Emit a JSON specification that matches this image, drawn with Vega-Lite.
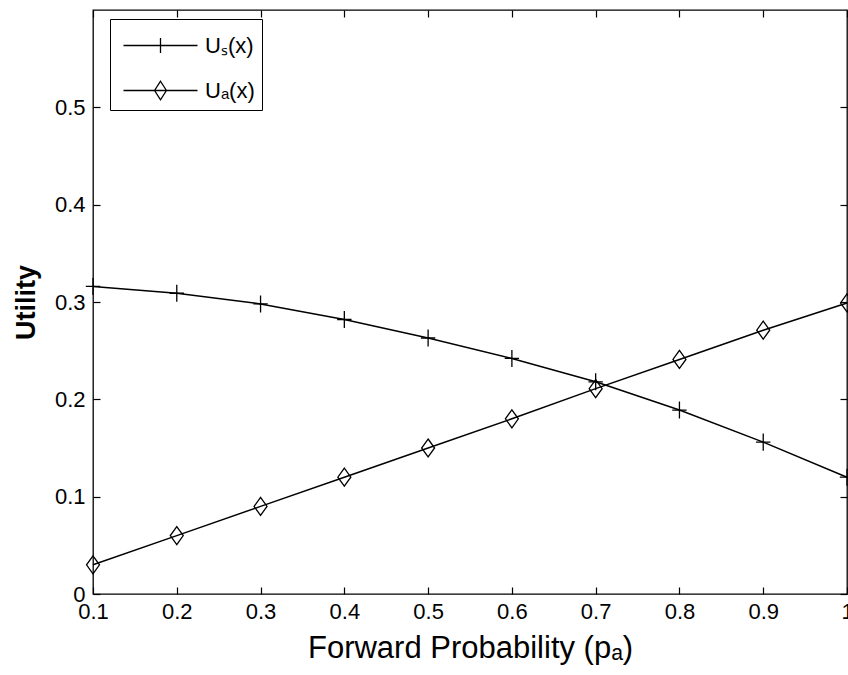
{
  "$schema": "https://vega.github.io/schema/vega-lite/v6.json",
  "width": 754,
  "height": 584,
  "autosize": {"type": "none"},
  "padding": {"left": 93, "top": 10, "right": 1, "bottom": 81},
  "background": "white",
  "config": {
    "view": {"stroke": "#000", "strokeWidth": 1.3},
    "font": "Liberation Sans",
    "axis": {
      "domain": false,
      "grid": false,
      "tickColor": "#000",
      "tickSize": -7,
      "tickWidth": 1.2,
      "labelFont": "Liberation Sans",
      "labelFontSize": 22,
      "labelColor": "#000",
      "labelFlush": false,
      "labelOverlap": false,
      "titleColor": "#000"
    }
  },
  "data": {
    "values": [
      {"p": 0.1, "series": "Uₛ(x)", "u": 0.316},
      {"p": 0.2, "series": "Uₛ(x)", "u": 0.309},
      {"p": 0.3, "series": "Uₛ(x)", "u": 0.298},
      {"p": 0.4, "series": "Uₛ(x)", "u": 0.282},
      {"p": 0.5, "series": "Uₛ(x)", "u": 0.263},
      {"p": 0.6, "series": "Uₛ(x)", "u": 0.242},
      {"p": 0.7, "series": "Uₛ(x)", "u": 0.218},
      {"p": 0.8, "series": "Uₛ(x)", "u": 0.189},
      {"p": 0.9, "series": "Uₛ(x)", "u": 0.156},
      {"p": 1.0, "series": "Uₛ(x)", "u": 0.120},
      {"p": 0.1, "series": "Uₐ(x)", "u": 0.030},
      {"p": 0.2, "series": "Uₐ(x)", "u": 0.060},
      {"p": 0.3, "series": "Uₐ(x)", "u": 0.090},
      {"p": 0.4, "series": "Uₐ(x)", "u": 0.120},
      {"p": 0.5, "series": "Uₐ(x)", "u": 0.150},
      {"p": 0.6, "series": "Uₐ(x)", "u": 0.180},
      {"p": 0.7, "series": "Uₐ(x)", "u": 0.211},
      {"p": 0.8, "series": "Uₐ(x)", "u": 0.241},
      {"p": 0.9, "series": "Uₐ(x)", "u": 0.271},
      {"p": 1.0, "series": "Uₐ(x)", "u": 0.299}
    ]
  },
  "layer": [
    {
      "mark": {"type": "line", "color": "#000", "strokeWidth": 1.5},
      "encoding": {
        "x": {
          "field": "p", "type": "quantitative",
          "scale": {"domain": [0.1, 1], "nice": false, "zero": false},
          "axis": {
            "orient": "bottom",
            "values": [0.1, 0.2, 0.3, 0.4, 0.5, 0.6, 0.7, 0.8, 0.9, 1],
            "format": "~g",
            "labelPadding": 14,
            "title": "Forward Probability (pₐ)",
            "titleFont": "Liberation Sans",
            "titleFontSize": 31,
            "titleFontWeight": "normal",
            "titleY": 63,
            "titleBaseline": "alphabetic"
          }
        },
        "y": {
          "field": "u", "type": "quantitative",
          "scale": {"domain": [0, 0.6], "nice": false, "zero": false},
          "axis": {
            "orient": "left",
            "values": [0, 0.1, 0.2, 0.3, 0.4, 0.5],
            "format": "~g",
            "labelPadding": 15,
            "title": "Utility",
            "titleFont": "Liberation Sans",
            "titleFontSize": 27,
            "titleFontWeight": "bold",
            "titleAngle": -90,
            "titleX": -59,
            "titleY": 292,
            "titleAlign": "center",
            "titleBaseline": "alphabetic"
          }
        },
        "detail": {"field": "series", "type": "nominal"}
      }
    },
    {
      "mark": {"type": "point", "filled": false, "color": "#000", "strokeWidth": 1.3, "size": 324, "opacity": 1},
      "encoding": {
        "x": {
          "field": "p", "type": "quantitative",
          "scale": {"domain": [0.1, 1], "nice": false, "zero": false},
          "axis": {"orient": "top", "values": [0.1, 0.2, 0.3, 0.4, 0.5, 0.6, 0.7, 0.8, 0.9, 1], "labels": false, "title": null}
        },
        "y": {
          "field": "u", "type": "quantitative",
          "scale": {"domain": [0, 0.6], "nice": false, "zero": false},
          "axis": {"orient": "right", "values": [0, 0.1, 0.2, 0.3, 0.4, 0.5], "labels": false, "title": null}
        },
        "shape": {
          "field": "series", "type": "nominal",
          "scale": {
            "domain": ["Uₛ(x)", "Uₐ(x)"],
            "range": ["M-0.8,0L0.8,0M0,-0.95L0,0.95", "M0,-1L0.72,0L0,1L-0.72,0Z"]
          },
          "legend": null
        }
      }
    },
    {
      "transform": [{"filter": "false"}],
      "mark": {"type": "point", "filled": false, "color": "#000", "strokeWidth": 1.3, "size": 1369, "opacity": 1},
      "encoding": {
        "x": {
          "field": "p", "type": "quantitative",
          "scale": {"domain": [0.1, 1], "nice": false, "zero": false},
          "axis": null
        },
        "y": {
          "field": "u", "type": "quantitative",
          "scale": {"domain": [0, 0.6], "nice": false, "zero": false},
          "axis": null
        },
        "shape": {
          "field": "series", "type": "nominal",
          "scale": {
            "domain": ["Uₛ(x)", "Uₐ(x)"],
            "range": ["M-2,0L2,0M0,-0.4L0,0.4", "M-2,0L2,0M0,-0.5L0.32,0L0,0.5L-0.32,0Z"]
          },
          "legend": {
            "orient": "none",
            "legendX": 17,
            "legendY": 9,
            "title": null,
            "padding": 7,
            "strokeColor": "#000",
            "fillColor": "#fff",
            "symbolSize": 1369,
            "symbolStrokeWidth": 1.3,
            "symbolStrokeColor": "#000",
            "symbolFillColor": "transparent",
            "symbolOpacity": 1,
            "symbolOffset": 24,
            "labelOffset": 25,
            "rowPadding": 14,
            "labelFont": "Liberation Sans",
            "labelFontSize": 22,
            "labelColor": "#000",
            "encode": {
              "legend": {"strokeWidth": {"value": 1.3}}
            }
          }
        }
      }
    }
  ],
  "resolve": {
    "axis": {"x": "independent", "y": "independent"},
    "scale": {"shape": "independent"}
  }
}
